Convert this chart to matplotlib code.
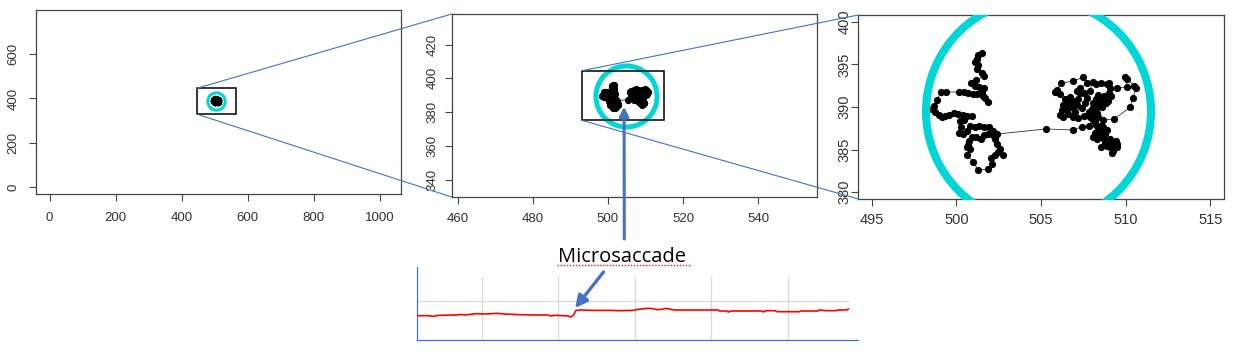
import numpy as np
import matplotlib
matplotlib.use("Agg")
import matplotlib.pyplot as plt
from matplotlib.patches import Rectangle, ConnectionPatch
from matplotlib.lines import Line2D

# gaze samples (screen px): left fixation cluster ...
left_x = [501.49, 501.29, 501.19, 501.10, 501.29, 501.19, 501.49, 501.63, 501.15, 501.00,
          500.84, 501.10, 501.35, 501.63, 501.49, 501.69, 501.88, 501.59, 501.23, 501.00,
          500.70, 500.45, 500.17, 499.38, 499.07, 498.83, 498.67, 498.54, 498.73, 498.99,
          499.13, 499.32, 499.58, 499.86, 500.11, 500.41, 500.64, 500.90, 500.45, 500.21,
          500.25, 500.17, 500.37, 500.64, 500.80, 501.10, 501.35, 501.63, 501.94, 502.18,
          502.14, 501.88, 501.63, 501.43, 501.15, 500.92, 500.76, 500.68, 500.60, 500.80,
          500.64, 500.96, 501.29, 501.86, 502.10, 502.06, 502.28, 502.45, 502.73, 502.57,
          502.38, 502.28, 502.42]
left_y = [396.30, 396.10, 395.59, 395.32, 394.93, 394.42, 393.95, 393.64, 393.17, 392.86,
          392.78, 392.46, 392.39, 392.19, 391.80, 391.02, 390.62, 391.29, 391.52, 391.52,
          391.68, 391.80, 391.76, 391.76, 391.72, 390.82, 390.12, 389.72, 389.45, 389.06,
          388.79, 388.98, 389.06, 389.26, 389.18, 389.06, 388.94, 388.98, 388.47, 388.36,
          387.69, 386.99, 386.79, 387.18, 387.77, 387.69, 387.77, 387.69, 387.61, 387.22,
          386.71, 386.83, 386.75, 386.28, 386.44, 386.52, 386.05, 385.54, 385.27, 385.03,
          384.37, 383.58, 382.60, 382.68, 383.31, 383.97, 384.37, 384.76, 384.37, 385.03,
          385.66, 386.28, 386.83]
# ... microsaccade and right fixation cluster
right_x = [505.27, 506.90, 507.40, 507.85, 508.18, 507.89, 507.53, 507.20, 506.90, 506.61,
           506.31, 506.12, 506.22, 506.47, 506.67, 506.90, 506.71, 506.61, 506.81, 507.10,
           507.20, 507.30, 507.10, 507.30, 507.69, 507.50, 506.87, 506.16, 505.92, 505.82,
           506.12, 506.41, 506.31, 506.55, 507.00, 507.40, 507.59, 507.69, 507.53, 507.89,
           508.05, 508.24, 508.52, 508.87, 509.03, 509.07, 508.99, 509.13, 508.97, 508.83,
           508.64, 508.38, 508.24, 508.05, 507.99, 508.32, 508.09, 507.85, 508.32, 508.58,
           508.44, 508.72, 509.46, 510.09, 509.96, 510.09, 510.49, 510.61, 510.41, 510.25,
           509.31, 508.64, 508.38, 508.05, 508.24, 508.52, 508.72, 508.48, 508.28, 508.05,
           508.18, 508.38, 508.68, 508.87, 508.77, 508.58, 508.32, 508.68, 509.07, 509.42,
           509.50, 509.27, 509.17, 509.07, 508.87, 508.52, 508.77, 509.17, 509.50]
right_y = [387.42, 387.30, 387.69, 387.77, 388.28, 388.79, 388.94, 388.67, 388.86, 389.18,
           388.86, 389.06, 389.65, 389.96, 390.23, 390.74, 391.13, 390.62, 389.96, 390.23,
           390.90, 391.60, 391.92, 392.19, 392.78, 393.48, 393.05, 392.78, 391.99, 391.80,
           391.52, 390.90, 390.23, 389.65, 389.45, 389.84, 390.43, 391.02, 391.60, 391.92,
           392.97, 392.70, 392.78, 392.70, 392.86, 392.19, 391.68, 391.29, 390.74, 390.43,
           390.90, 391.41, 390.90, 390.43, 389.72, 389.26, 389.06, 389.45, 390.04, 389.96,
           390.51, 391.29, 392.19, 392.39, 393.48, 393.25, 392.46, 392.19, 391.02, 389.96,
           388.59, 388.47, 388.79, 388.47, 387.89, 387.77, 387.30, 387.10, 386.71, 386.44,
           386.91, 387.50, 387.61, 387.30, 386.83, 386.52, 386.20, 386.32, 386.20, 386.05,
           385.34, 384.87, 384.56, 385.34, 385.42, 385.34, 385.73, 385.81, 385.66]

fix_center = (504.8, 389.5)

# plot ranges (R adds 4% on each side)
full_x, full_y = (0, 1024), (0, 768)
mid_x, mid_y = (462, 552), (334, 434)
zoom_x, zoom_y = (495, 515), (380, 400)
box_full = (447, 329, 564, 446)     # x0, y0, x1, y1
box_mid = (493, 375.3, 515, 404.5)

# horizontal gaze trace over time
trace_t = [16, 30, 37, 43, 69, 71, 78, 93, 104, 120, 130, 150, 161, 187, 190, 196, 207,
           213, 216, 220, 223, 229, 244, 266, 279, 298, 304, 317, 324, 329, 335, 341, 345,
           351, 399, 409, 410, 420, 422, 426, 466, 468, 471, 483, 486, 515, 517, 539, 541,
           547, 549, 563, 565, 577, 579]
trace_v = [501.2, 501.2, 500.3, 501.6, 502.1, 502.9, 502.1, 503.8, 503.3, 504.2, 503.3,
           502.5, 502.1, 502.1, 500.8, 501.6, 501.2, 500.8, 499.5, 502.1, 508.0, 508.5,
           508.0, 508.0, 507.6, 508.0, 509.3, 510.6, 510.2, 508.9, 509.3, 510.6, 509.8,
           508.5, 508.5, 508.5, 507.2, 507.2, 505.9, 507.2, 507.2, 505.9, 507.6, 507.6,
           506.3, 506.3, 507.2, 507.2, 508.5, 508.0, 507.6, 507.6, 508.5, 508.5, 509.8]
trace_grid_t = [100, 200, 300, 400, 500]

BLUE = "#4472c4"
CYAN = "#00d6d6"
plt.rcParams["font.family"] = ["Liberation Sans", "DejaVu Sans"]

W, H = 1236, 359
fig = plt.figure(figsize=(W / 100, H / 100), dpi=100)


def px_axes(l, t, r, b):
    return fig.add_axes([l / W, 1 - b / H, (r - l) / W, (b - t) / H])


def rlim(lo, hi):
    d = (hi - lo) * 0.04
    return lo - d, hi + d


gx = left_x + right_x
gy = left_y + right_y


def gaze_panel(ax, xl, yl, xt, yt, ring_ms, ring_mew, fs, xpad, ypad, ylen=5):
    ax.set_xlim(rlim(*xl))
    ax.set_ylim(rlim(*yl))
    ax.plot(gx, gy, "-", color="#333333", lw=0.6, zorder=2)
    ax.plot(gx, gy, "o", color="black", ms=5.2, mew=0, zorder=3)
    ax.plot(*fix_center, "o", mfc="none", mec=CYAN, ms=ring_ms, mew=ring_mew, zorder=4)
    ax.set_xticks(xt)
    ax.set_yticks(yt)
    ax.tick_params(axis="x", length=5, width=0.8, color="#444444", labelsize=fs,
                   labelcolor="#333333", pad=xpad)
    ax.tick_params(axis="y", length=ylen, width=0.8, color="#444444", labelsize=fs,
                   labelcolor="#333333", pad=ypad)
    for lab in ax.get_yticklabels():
        lab.set_rotation(90)
        lab.set_va("center")
    for s in ax.spines.values():
        s.set_color("#444444")
        s.set_linewidth(0.9)


ax1 = px_axes(36, 10, 401, 194)
gaze_panel(ax1, full_x, full_y, range(0, 1001, 200), range(0, 601, 200), 12.5, 2.2, 9.5, 8, 7)
ax2 = px_axes(451.7, 14, 816.7, 197)
gaze_panel(ax2, mid_x, mid_y, range(460, 541, 20), range(340, 421, 20), 44, 3.6, 9.5, 6.5, 4.6)
ax3 = px_axes(858.3, 15, 1224, 199)
gaze_panel(ax3, zoom_x, zoom_y, range(495, 516, 5), range(380, 401, 5), 162, 5.8, 10.5, 5, 0)

for ax, b in ((ax1, box_full), (ax2, box_mid)):
    ax.add_patch(Rectangle((b[0], b[1]), b[2] - b[0], b[3] - b[1], fill=False,
                           ec="black", lw=1.1, zorder=5))

for axA, b, axB in ((ax1, box_full, ax2), (ax2, box_mid, ax3)):
    for ya, yb in ((b[3], 1), (b[1], 0)):
        con = ConnectionPatch(xyA=(b[0], ya), coordsA=axA.transData,
                              xyB=(0, yb), coordsB=axB.transAxes,
                              color=BLUE, lw=0.8, zorder=10)
        fig.add_artist(con)

# time trace
ax4 = px_axes(416.7, 266.7, 858.3, 340)
ax4.set_xlim(15, 592)
ax4.set_ylim(470, 564)
for t in trace_grid_t:
    ax4.axvline(t, ymin=0, ymax=0.864, color="#d9d9d9", lw=0.9, zorder=1)
ax4.axhline(520, xmin=0, xmax=0.977, color="#d9d9d9", lw=0.9, zorder=1)
ax4.plot(trace_t, trace_v, color="#ff0000", lw=1.2, zorder=3)
ax4.set_xticks([])
ax4.set_yticks([])
for side in ("top", "right"):
    ax4.spines[side].set_visible(False)
for side in ("left", "bottom"):
    ax4.spines[side].set_color(BLUE)
    ax4.spines[side].set_linewidth(0.9)
ax4.patch.set_alpha(0)

# label and arrows
fig.text(622 / W, 1 - 257 / H, "Microsaccade", ha="center", va="center",
         fontsize=14.5, family=["Open Sans", "DejaVu Sans"], color="black")
fig.add_artist(Line2D([557 / W, 690 / W], [1 - 265 / H, 1 - 265 / H], color="#e02020",
                      lw=1.0, ls=(0, (1, 1.2)), transform=fig.transFigure))

ax2.annotate("", xy=(504.3, 383.3), xycoords="data",
             xytext=(624.3 / W, 1 - 239 / H), textcoords="figure fraction",
             arrowprops=dict(arrowstyle="-|>", color=BLUE, lw=2.2, mutation_scale=14,
                             shrinkA=0, shrinkB=0), zorder=12)
ax4.annotate("", xy=(222, 511), xycoords="data",
             xytext=(603.5 / W, 1 - 272 / H), textcoords="figure fraction",
             arrowprops=dict(arrowstyle="-|>", color=BLUE, lw=2.4, mutation_scale=18,
                             shrinkA=0, shrinkB=0), annotation_clip=False, zorder=12)

fig.savefig("out.png", dpi=100)
